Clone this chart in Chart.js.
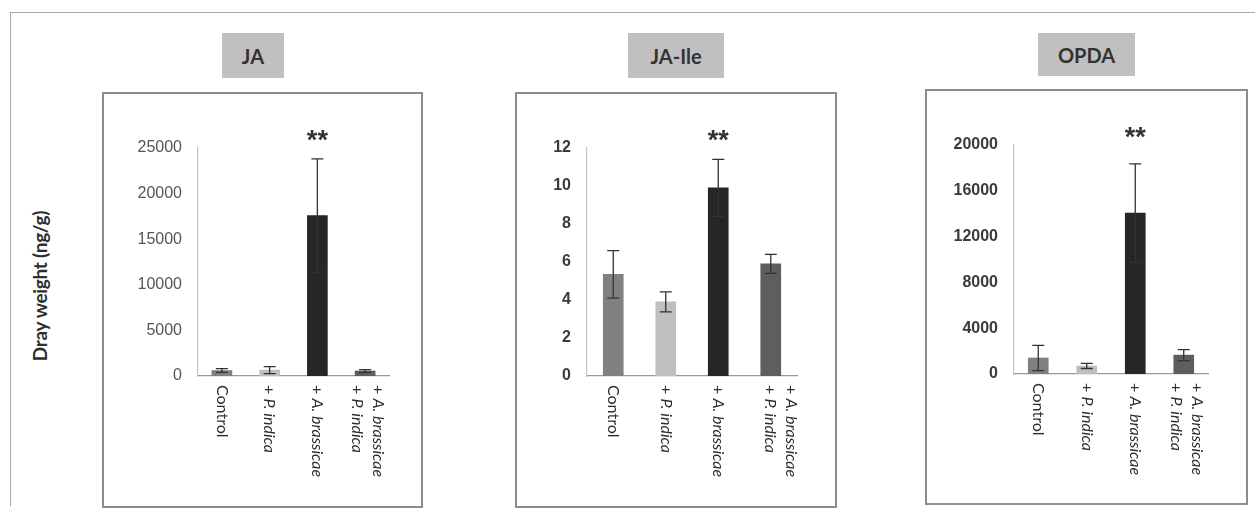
<!DOCTYPE html>
<html><head><meta charset="utf-8">
<script src="https://cdn.jsdelivr.net/npm/chart.js@4/dist/chart.umd.min.js"></script>
<style>
html,body{margin:0;padding:0;background:#fff;}
body{width:1255px;height:515px;position:relative;overflow:hidden;font-family:Lato,"Liberation Sans",sans-serif;}
.frame{position:absolute;left:10px;top:12px;width:1300px;height:493px;border-left:1.5px solid #a8a8a8;border-top:1.5px solid #a8a8a8;}
.box{position:absolute;border:2px solid #8c8c8c;box-sizing:border-box;}
.title{position:absolute;background:#c0c0c0;color:#333;font:bold 20px Lato;display:flex;align-items:center;justify-content:center;}
.ytitle{position:absolute;left:39px;top:286px;transform:translate(-50%,-50%) rotate(-90deg);white-space:nowrap;font:bold 19px Lato;letter-spacing:-0.3px;color:#2e2e2e;}
canvas{position:absolute;}
</style></head>
<body>
<div class="frame"></div>
<div class="ytitle">Dray weight (ng/g)</div>

<div class="title" style="left:222px;top:33px;width:62px;height:45px;">JA</div>
<div class="title" style="left:628px;top:33px;width:96px;height:45px;">JA-Ile</div>
<div class="title" style="left:1038px;top:33px;width:97px;height:43px;">OPDA</div>

<div class="box" style="left:102px;top:92px;width:321px;height:416px;"></div>
<div class="box" style="left:515px;top:92px;width:322px;height:416px;"></div>
<div class="box" style="left:925px;top:89px;width:323px;height:416px;"></div>

<div style="position:absolute;left:104px;top:94px;width:317px;height:412px;"><canvas id="c1"></canvas></div>
<div style="position:absolute;left:517px;top:94px;width:318px;height:412px;"><canvas id="c2"></canvas></div>
<div style="position:absolute;left:927px;top:91px;width:319px;height:412px;"><canvas id="c3"></canvas></div>

<script>
// ---- data ----
const categories = [["Control"], ["+ P. indica"], ["+ A. brassicae"], ["+ A. brassicae", "+ P. indica"]];
const barColors = ['#808080', '#bfbfbf', '#262626', '#5e5e5e'];
const significance = ['', '', '**', ''];

const jaValues = [600, 650, 17600, 550];
const jaErrors = [200, 380, 6200, 150];
const jaTicks = [0, 5000, 10000, 15000, 20000, 25000];

const jaIleValues = [5.35, 3.9, 9.9, 5.9];
const jaIleErrors = [1.25, 0.53, 1.5, 0.5];
const jaIleTicks = [0, 2, 4, 6, 8, 10, 12];

const opdaValues = [1400, 700, 14050, 1650];
const opdaErrors = [1100, 220, 4300, 480];
const opdaTicks = [0, 4000, 8000, 12000, 16000, 20000];

// ---- plugin: error bars, significance marks, rotated category labels ----
const annot = {
  id: 'annot',
  afterDatasetsDraw(chart, args, opts) {
    const ctx = chart.ctx;
    const meta = chart.getDatasetMeta(0);
    const ys = chart.scales.y, xs = chart.scales.x;
    const vals = chart.data.datasets[0].data;
    ctx.save();
    ctx.strokeStyle = '#333';
    ctx.lineWidth = 1.3;
    vals.forEach((v, i) => {
      const e = opts.errors[i];
      const cx = meta.data[i].x;
      const yt = ys.getPixelForValue(v + e), yb = ys.getPixelForValue(Math.max(0, v - e));
      ctx.beginPath();
      ctx.moveTo(cx, yt); ctx.lineTo(cx, yb);
      ctx.moveTo(cx - 6, yt); ctx.lineTo(cx + 6, yt);
      ctx.moveTo(cx - 6, yb); ctx.lineTo(cx + 6, yb);
      ctx.stroke();
      if (opts.sig[i]) {
        ctx.fillStyle = '#333';
        ctx.font = 'bold 27px "Liberation Sans"';
        ctx.textAlign = 'center';
        ctx.textBaseline = 'alphabetic';
        ctx.fillText(opts.sig[i], cx, chart.chartArea.top + 1);
      }
    });
    // category labels, rotated clockwise
    const lh = 21;
    chart.data.labels.forEach((lines, i) => {
      const cx = xs.getPixelForValue(i) + (lines.length > 1 ? opts.twoLineShift : 0);
      ctx.save();
      ctx.translate(cx, xs.top + 9);
      ctx.rotate(Math.PI / 2);
      ctx.fillStyle = '#2e2e2e';
      ctx.textBaseline = 'middle';
      ctx.textAlign = 'left';
      lines.forEach((line, j) => {
        const ly = (j - (lines.length - 1) / 2) * lh;
        let xpos = 0;
        let plain = line, ital = '';
        if (line.startsWith('+ ')) { plain = '+ '; ital = line.slice(2); }
        ctx.font = '16px Lato';
        ctx.fillText(plain, xpos, ly);
        xpos += ctx.measureText(plain).width;
        if (ital) {
          ctx.font = 'italic 16px Lato';
          ctx.fillText(ital, xpos, ly);
        }
      });
      ctx.restore();
    });
    ctx.restore();
  }
};

function makeChart(id, values, errors, ticks, cfg) {
  return new Chart(document.getElementById(id), {
    type: 'bar',
    data: {
      labels: categories,
      datasets: [{ data: values, backgroundColor: barColors, borderWidth: 0, barThickness: 20 }]
    },
    options: {
      responsive: true,
      maintainAspectRatio: false,
      animation: false,
      events: [],
      layout: { padding: { top: cfg.top, right: cfg.right, left: 0, bottom: 0 } },
      plugins: {
        legend: { display: false },
        tooltip: { enabled: false },
        annot: { errors: errors, sig: significance, twoLineShift: cfg.shift }
      },
      scales: {
        x: {
          grid: { display: false, drawTicks: false },
          border: { display: true, color: '#9a9a9a', width: 1.2 },
          ticks: { display: false },
          afterFit(s) { s.height = cfg.xh; }
        },
        y: {
          min: ticks[0], max: ticks[ticks.length - 1],
          grid: { display: false, drawTicks: false },
          border: { display: true, color: '#c4c4c4', width: 1.2 },
          ticks: {
            stepSize: ticks[1] - ticks[0],
            padding: 16,
            color: cfg.tickColor,
            font: { family: '"Liberation Sans"', size: 16, weight: cfg.tickWeight },
            callback: (v) => String(v)
          },
          afterFit(s) { s.width = cfg.yw; }
        }
      }
    },
    plugins: [annot]
  });
}

makeChart('c1', jaValues, jaErrors, jaTicks, { top: 54, right: 32, xh: 130, yw: 94, shift: 3, tickColor: '#555', tickWeight: 'normal' });
makeChart('c2', jaIleValues, jaIleErrors, jaIleTicks, { top: 54, right: 38, xh: 130, yw: 70, shift: 10, tickColor: '#3a3a3a', tickWeight: 'bold' });
makeChart('c3', opdaValues, opdaErrors, opdaTicks, { top: 54, right: 38, xh: 129, yw: 87, shift: 3, tickColor: '#3a3a3a', tickWeight: 'bold' });
</script>
</body></html>
